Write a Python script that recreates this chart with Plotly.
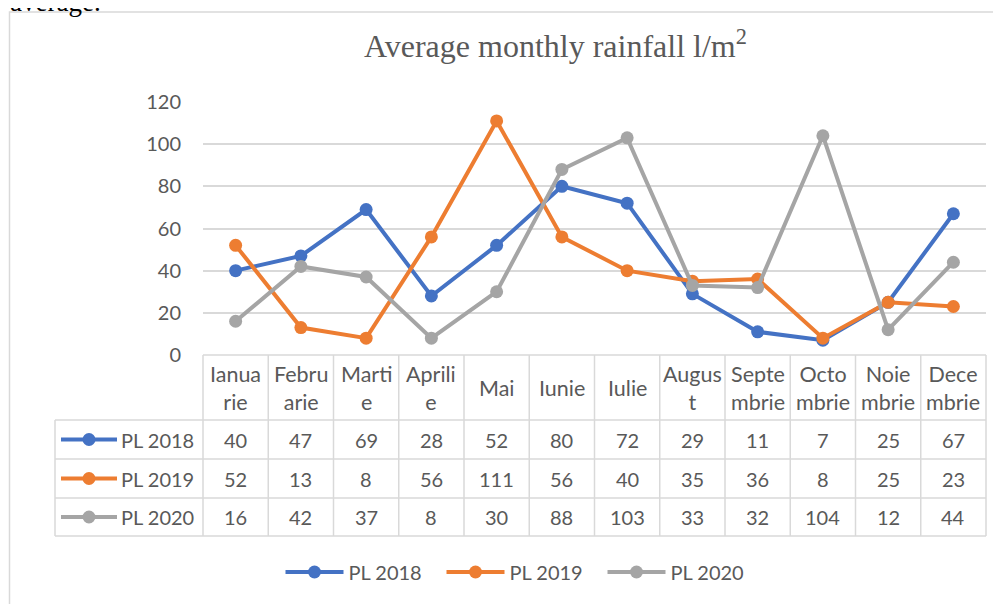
import plotly.graph_objects as go

# ---- data ----
months = ["Ianuarie", "Februarie", "Martie", "Aprilie", "Mai", "Iunie", "Iulie",
          "August", "Septembrie", "Octombrie", "Noiembrie", "Decembrie"]
month_labels = ["Ianua<br>rie", "Febru<br>arie", "Marti<br>e", "Aprili<br>e", "Mai", "Iunie",
                "Iulie", "Augus<br>t", "Septe<br>mbrie", "Octo<br>mbrie", "Noie<br>mbrie", "Dece<br>mbrie"]
pl2018 = [40, 47, 69, 28, 52, 80, 72, 29, 11, 7, 25, 67]
pl2019 = [52, 13, 8, 56, 111, 56, 40, 35, 36, 8, 25, 23]
pl2020 = [16, 42, 37, 8, 30, 88, 103, 33, 32, 104, 12, 44]
series_names = ["PL 2018", "PL 2019", "PL 2020"]
y_ticks = [0, 20, 40, 60, 80, 100, 120]
title_text = "Average monthly rainfall l/m<sup>2</sup>"

# ---- styling / layout (window pixel coordinates; page body has an 8px margin) ----
colors = ["#4472C4", "#ED7D31", "#A5A5A5"]
WIN_W, WIN_H = 1001, 604
OFF = 8
W, H = WIN_W - OFF, WIN_H - OFF
L, R, T, B = 203, 986, 102, 355
GRID = "#D9D9D9"
TXT = "#595959"
FONT = "Lato"


def X(px):
    return (px - L) / (R - L)


def Y(py):
    return (B - py) / (B - T)


series = [pl2018, pl2019, pl2020]
fig = go.Figure()
for name, vals, c in zip(series_names, series, colors):
    fig.add_trace(go.Scatter(
        x=months, y=vals, name=name, mode="lines+markers",
        line=dict(color=c, width=4),
        marker=dict(color=c, size=13),
        cliponaxis=False,
    ))

shapes = []
# outer chart border
shapes.append(dict(type="rect", xref="paper", yref="paper",
                   x0=X(9.5), x1=X(1012), y0=Y(12), y1=Y(620),
                   line=dict(color=GRID, width=1.5)))
# table horizontal lines
row_lines = [355, 420, 459, 498, 536]
for i, py in enumerate(row_lines):
    x0 = L if i == 0 else 55
    shapes.append(dict(type="line", xref="paper", yref="paper",
                       x0=X(x0), x1=X(R), y0=Y(py), y1=Y(py),
                       line=dict(color=GRID, width=1.5)))
# vertical lines at column boundaries (category index +/- 0.5 => paper fraction)
n = len(months)
for i in range(n + 1):
    xp = i / n
    shapes.append(dict(type="line", xref="paper", yref="paper",
                       x0=xp, x1=xp, y0=Y(355), y1=Y(536),
                       line=dict(color=GRID, width=1.5)))
shapes.append(dict(type="line", xref="paper", yref="paper",
                   x0=X(55), x1=X(55), y0=Y(420), y1=Y(536),
                   line=dict(color=GRID, width=1.5)))

annotations = []
# header
for m, lab in zip(months, month_labels):
    annotations.append(dict(x=m, xref="x", y=Y(387.5), yref="paper", text=lab,
                            showarrow=False, xanchor="center", yanchor="middle",
                            font=dict(family=FONT, size=21.5, color=TXT)))
row_centers = [439.5, 478.5, 517]
for name, vals, c, yc in zip(series_names, series, colors, row_centers):
    # legend key inside table
    shapes.append(dict(type="line", xref="paper", yref="paper",
                       x0=X(61), x1=X(117), y0=Y(yc), y1=Y(yc),
                       line=dict(color=c, width=4)))
    shapes.append(dict(type="circle", xref="paper", yref="paper",
                       x0=X(82.5), x1=X(95.5), y0=Y(yc - 6.5), y1=Y(yc + 6.5),
                       fillcolor=c, line=dict(color=c, width=0)))
    annotations.append(dict(x=X(119), xref="paper", y=Y(yc), yref="paper", text=name,
                            showarrow=False, xanchor="left", yanchor="middle",
                            font=dict(family=FONT, size=20, color=TXT)))
    for m, v in zip(months, vals):
        annotations.append(dict(x=m, xref="x", y=Y(yc), yref="paper", text=str(v),
                                showarrow=False, xanchor="center", yanchor="middle",
                                font=dict(family=FONT, size=20, color=TXT)))

# title
annotations.append(dict(x=X(555), xref="paper", y=Y(44), yref="paper", text=title_text,
                        showarrow=False, xanchor="center", yanchor="middle",
                        font=dict(family="Liberation Serif", size=32, color=TXT)))
# clipped caption text above the chart
annotations.append(dict(x=X(8), xref="paper", y=Y(2), yref="paper", text="average.",
                        showarrow=False, xanchor="left", yanchor="middle",
                        font=dict(family="Liberation Serif", size=27, color="#000000")))

fig.update_layout(
    width=W, height=H,
    margin=dict(l=L - OFF, r=WIN_W - R, t=T - OFF, b=WIN_H - B, pad=0),
    paper_bgcolor="white", plot_bgcolor="white",
    shapes=shapes, annotations=annotations,
    showlegend=True,
    legend=dict(orientation="h", x=X(522), xanchor="center", y=Y(572), yanchor="middle",
                font=dict(family=FONT, size=20, color=TXT),
                itemwidth=58,
                entrywidth=88, entrywidthmode="pixels",
                bgcolor="rgba(0,0,0,0)"),
    xaxis=dict(type="category", range=[-0.5, n - 0.5], showticklabels=False,
               showgrid=False, zeroline=False, showline=False, ticks=""),
    yaxis=dict(range=[0, 120], tickvals=y_ticks, showgrid=True, gridcolor=GRID, gridwidth=1.5,
               zeroline=False, showline=False, ticks="outside", ticklen=17,
               tickcolor="rgba(0,0,0,0)",
               tickfont=dict(family=FONT, size=20, color=TXT)),
)

fig.write_html("out.html")
